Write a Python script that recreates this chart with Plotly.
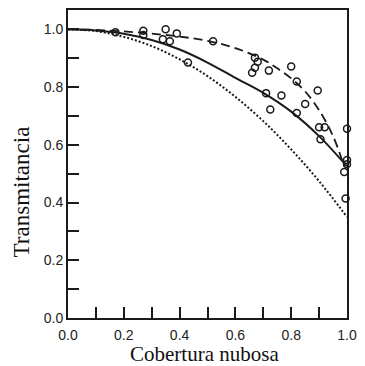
import plotly.graph_objects as go

# Curves of transmittance versus cloud cover, read at regular cloud-cover steps
curve_x = [0.0, 0.1, 0.2, 0.3, 0.4, 0.5, 0.6, 0.7, 0.8, 0.9, 1.0]
solid_y = [1.0, 0.996, 0.985, 0.963, 0.93, 0.885, 0.832, 0.78, 0.715, 0.63, 0.525]
dotted_y = [1.0, 0.994, 0.974, 0.942, 0.896, 0.838, 0.766, 0.682, 0.584, 0.474, 0.35]

dashed_x = [0.0, 0.1, 0.2, 0.3, 0.4, 0.5, 0.6, 0.7, 0.75, 0.8, 0.85, 0.9, 0.95, 0.99]
dashed_y = [1.0, 0.998, 0.993, 0.985, 0.975, 0.96, 0.935, 0.895, 0.865, 0.83, 0.785, 0.72, 0.63, 0.525]

# Observed points
obs_x = [0.17, 0.27, 0.27, 0.35, 0.34, 0.365, 0.39, 0.43, 0.52,
         0.67, 0.68, 0.67, 0.66, 0.72, 0.80, 0.82, 0.895, 0.71, 0.765,
         0.85, 0.725, 0.82, 0.90, 0.92, 0.905, 1.0, 1.0, 1.0, 0.99, 0.995]
obs_y = [0.99, 0.995, 0.98, 1.0, 0.966, 0.959, 0.986, 0.885, 0.959,
         0.902, 0.888, 0.867, 0.85, 0.857, 0.871, 0.819, 0.788, 0.779, 0.771,
         0.741, 0.722, 0.71, 0.661, 0.661, 0.619, 0.656, 0.547, 0.533, 0.506, 0.414]

x_ticks = [0.0, 0.2, 0.4, 0.6, 0.8, 1.0]
y_ticks = [0.0, 0.2, 0.4, 0.6, 0.8, 1.0]

ink = "#1a1a1a"

fig = go.Figure()
fig.add_trace(go.Scatter(x=curve_x, y=dotted_y, mode="lines",
                         line=dict(color=ink, width=2, dash="2px,2px", shape="spline")))
fig.add_trace(go.Scatter(x=dashed_x, y=dashed_y, mode="lines",
                         line=dict(color=ink, width=1.8, dash="9px,5px", shape="spline")))
fig.add_trace(go.Scatter(x=curve_x, y=solid_y, mode="lines",
                         line=dict(color=ink, width=2, shape="spline")))
fig.add_trace(go.Scatter(x=obs_x, y=obs_y, mode="markers", cliponaxis=False,
                         marker=dict(symbol="circle-open", size=7, color=ink,
                                     line=dict(width=1.5, color=ink))))

tick_font = dict(family="Liberation Sans, Arial, sans-serif", size=14, color="#222")

fig.update_layout(
    width=365, height=366,
    margin=dict(l=68, r=8, t=8, b=48),
    paper_bgcolor="white", plot_bgcolor="white",
    showlegend=False,
    xaxis=dict(range=[0, 1.0], tickvals=x_ticks, tickformat=".1f",
               ticks="inside", ticklen=11, tickwidth=2, tickcolor=ink,
               minor=dict(ticks="inside", ticklen=11, tickwidth=2, tickcolor=ink, dtick=0.1),
               showline=True, linewidth=2, linecolor=ink, mirror=True,
               showgrid=False, zeroline=False, tickfont=tick_font,
               ticklabelstandoff=3),
    yaxis=dict(range=[0, 1.067], tickvals=y_ticks, tickformat=".1f",
               ticks="inside", ticklen=11, tickwidth=2, tickcolor=ink,
               minor=dict(ticks="inside", ticklen=11, tickwidth=2, tickcolor=ink, dtick=0.1),
               showline=True, linewidth=2, linecolor=ink, mirror=True,
               showgrid=False, zeroline=False, tickfont=tick_font),
    annotations=[
        dict(text="Cobertura nubosa", xref="paper", yref="paper", x=0.49, y=-0.117,
             showarrow=False, xanchor="center", yanchor="middle",
             font=dict(family="Liberation Serif, Times New Roman, serif", size=21, color="#111")),
        dict(text="Transmitancia", xref="paper", yref="paper", x=-0.166, y=0.41,
             showarrow=False, xanchor="center", yanchor="middle", textangle=-90,
             font=dict(family="Liberation Serif, Times New Roman, serif", size=23, color="#111")),
    ],
)

fig.write_html("out.html")
